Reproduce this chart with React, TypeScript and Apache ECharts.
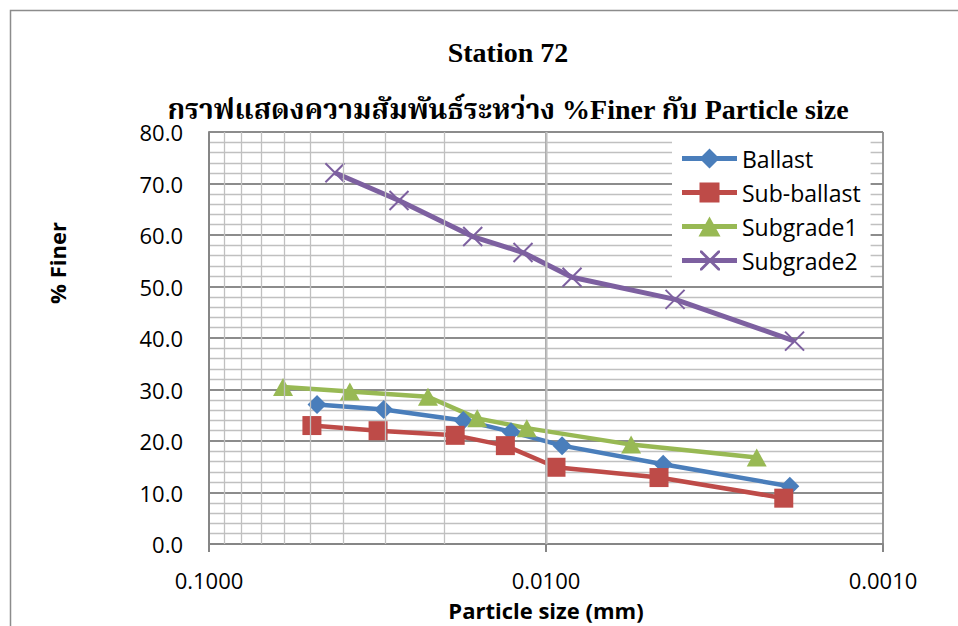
import React, { useEffect, useRef } from 'react';
import * as echarts from 'echarts';

const seriesNames = ['Ballast', 'Sub-ballast', 'Subgrade1', 'Subgrade2'];
const ballastSize = [0.0478, 0.0303, 0.0176, 0.0127, 0.00896, 0.00449, 0.00189];
const ballastFiner = [27.1, 26.1, 24.0, 21.8, 19.1, 15.5, 11.2];
const subBallastSize = [0.0495, 0.0315, 0.0186, 0.0132, 0.00934, 0.00462, 0.00197];
const subBallastFiner = [23.0, 22.0, 21.1, 19.1, 14.9, 12.9, 8.9];
const subgrade1Size = [0.0603, 0.0382, 0.0224, 0.016, 0.0114, 0.00559, 0.00237];
const subgrade1Finer = [30.5, 29.6, 28.6, 24.4, 22.5, 19.3, 16.8];
const subgrade2Size = [0.0423, 0.0273, 0.0165, 0.0117, 0.00837, 0.00414, 0.00183];
const subgrade2Finer = [72.1, 66.7, 59.7, 56.6, 51.8, 47.5, 39.4];
const minorGridX = [0.09, 0.08, 0.07, 0.06, 0.05, 0.04, 0.03, 0.02, 0.009, 0.008, 0.007, 0.006, 0.005, 0.004, 0.003, 0.002];

const titleMain = 'Station 72';
const titleSub = 'กราฟแสดงความสัมพันธ์ระหว่าง %Finer กับ Particle size';
const xName = 'Particle size (mm)';
const yName = '% Finer';

const zip = (xs: number[], ys: number[]) => xs.map((x, i) => [x, ys[i]]);

// legend icons: thick line + marker, drawn in a 55 x 20 box
const bar = 'M0,7.5 H55 V12.5 H0 Z ';
const legendIcons = [
  'path://' + bar + 'M27.5,0 L37.5,10 L27.5,20 L17.5,10 Z',
  'path://' + bar + 'M17.5,0 H37.5 V20 H17.5 Z',
  'path://' + bar + 'M27.5,0 L38.5,20 L16.5,20 Z',
  'path://' + bar + 'M18,0 L20,0 L38,18 L38,20 L36,20 L18,2 Z M36,0 L38,0 L38,2 L20,20 L18,20 L18,18 Z',
];

export default function App() {
  const ref = useRef<HTMLDivElement>(null);
  useEffect(() => {
    const chart = echarts.init(ref.current!, null, { renderer: 'svg' });
    const sans = "'Open Sans', 'Noto Sans', sans-serif";
    const serif = "'Liberation Serif', 'Noto Serif Thai', 'Noto Sans Thai', serif";
    const lineW = 4.5;
    const option: any = {
      animation: false,
      backgroundColor: '#ffffff',
      textStyle: { fontFamily: sans },
      grid: { left: 209, right: 75, top: 132, bottom: 80, containLabel: false },
      graphic: [
        { type: 'rect', shape: { x: 10.5, y: 10.5, width: 1000, height: 700 }, style: { fill: 'none', stroke: '#8c8c8c', lineWidth: 1.5 }, z: -1 },
        { type: 'text', x: 508, y: 52, style: { text: titleMain, font: `bold 28px ${serif}`, fill: '#000', align: 'center', verticalAlign: 'middle' } },
        { type: 'text', x: 508, y: 109, style: { text: titleSub, font: `bold 28px ${serif}`, fill: '#000', align: 'center', verticalAlign: 'middle' } },
        { type: 'text', x: 57, y: 263, rotation: Math.PI / 2, style: { text: yName, font: `bold 22px ${sans}`, fill: '#000', align: 'center', verticalAlign: 'middle' } },
      ],
      legend: {
        data: seriesNames.map((name, i) => ({ name, icon: legendIcons[i] })),
        orient: 'vertical',
        left: 672,
        top: 139,
        padding: [8, 10, 8, 10],
        backgroundColor: '#ffffff',
        itemWidth: 55,
        itemHeight: 20,
        itemGap: 11,
        itemStyle: { borderWidth: 0 },
        textStyle: { fontSize: 23, color: '#000', fontFamily: sans },
      },
      xAxis: {
        type: 'log',
        logBase: 10,
        min: 0.001,
        max: 0.1,
        inverse: true,
        name: xName,
        nameLocation: 'middle',
        nameGap: 55,
        nameTextStyle: { fontSize: 22, fontWeight: 'bold', color: '#000' },
        axisLine: { show: true, onZero: false, lineStyle: { color: '#868686', width: 2 } },
        axisTick: { show: true, inside: false, length: 8, lineStyle: { color: '#868686', width: 2 } },
        axisLabel: { margin: 25, fontSize: 22, color: '#000', formatter: (v: number) => v.toFixed(4) },
        splitLine: { show: true, lineStyle: { color: '#8c8c8c', width: 1.8 } },
        minorTick: { show: false },
      },
      yAxis: {
        type: 'value',
        min: 0,
        max: 80,
        interval: 10,
        axisLine: { show: true, lineStyle: { color: '#868686', width: 2 } },
        axisTick: { show: false },
        axisLabel: { margin: 26, fontSize: 22, color: '#000', formatter: (v: number) => v.toFixed(1) },
        splitLine: { show: true, lineStyle: { color: '#8c8c8c', width: 1.8 } },
        minorTick: { show: false, splitNumber: 5 },
        minorSplitLine: { show: true, lineStyle: { color: '#c0c0c0', width: 1.3 } },
      },
      series: [
        {
          name: 'grid-minor',
          type: 'line',
          data: [],
          z: 0,
          silent: true,
          markLine: {
            silent: true,
            symbol: ['none', 'none'],
            label: { show: false },
            lineStyle: { color: '#c0c0c0', width: 1.3, type: 'solid' },
            data: minorGridX.map((v) => ({ xAxis: v })),
          },
        },
        {
          name: seriesNames[0],
          type: 'line',
          z: 3,
          data: zip(ballastSize, ballastFiner),
          symbol: 'diamond',
          symbolSize: 19,
          lineStyle: { color: '#4a7ebb', width: lineW },
          itemStyle: { color: '#4a7ebb' },
        },
        {
          name: seriesNames[1],
          type: 'line',
          z: 3,
          data: zip(subBallastSize, subBallastFiner),
          symbol: 'rect',
          symbolSize: 19,
          lineStyle: { color: '#be4b48', width: lineW },
          itemStyle: { color: '#be4b48' },
        },
        {
          name: seriesNames[2],
          type: 'line',
          z: 3,
          data: zip(subgrade1Size, subgrade1Finer),
          symbol: 'triangle',
          symbolSize: [20, 18],
          lineStyle: { color: '#98b954', width: lineW },
          itemStyle: { color: '#98b954' },
        },
        {
          name: seriesNames[3],
          type: 'line',
          z: 3,
          data: zip(subgrade2Size, subgrade2Finer),
          symbol: 'path://M0,0L20,20M20,0L0,20',
          symbolSize: 19,
          lineStyle: { color: '#7d60a0', width: 5 },
          itemStyle: { color: '#7d60a0', borderColor: '#7d60a0', borderWidth: 2 },
        },
      ],
    };
    chart.setOption(option);
    return () => chart.dispose();
  }, []);
  return <div ref={ref} style={{ position: 'fixed', left: 0, top: 0, width: 958, height: 626 }} />;
}
